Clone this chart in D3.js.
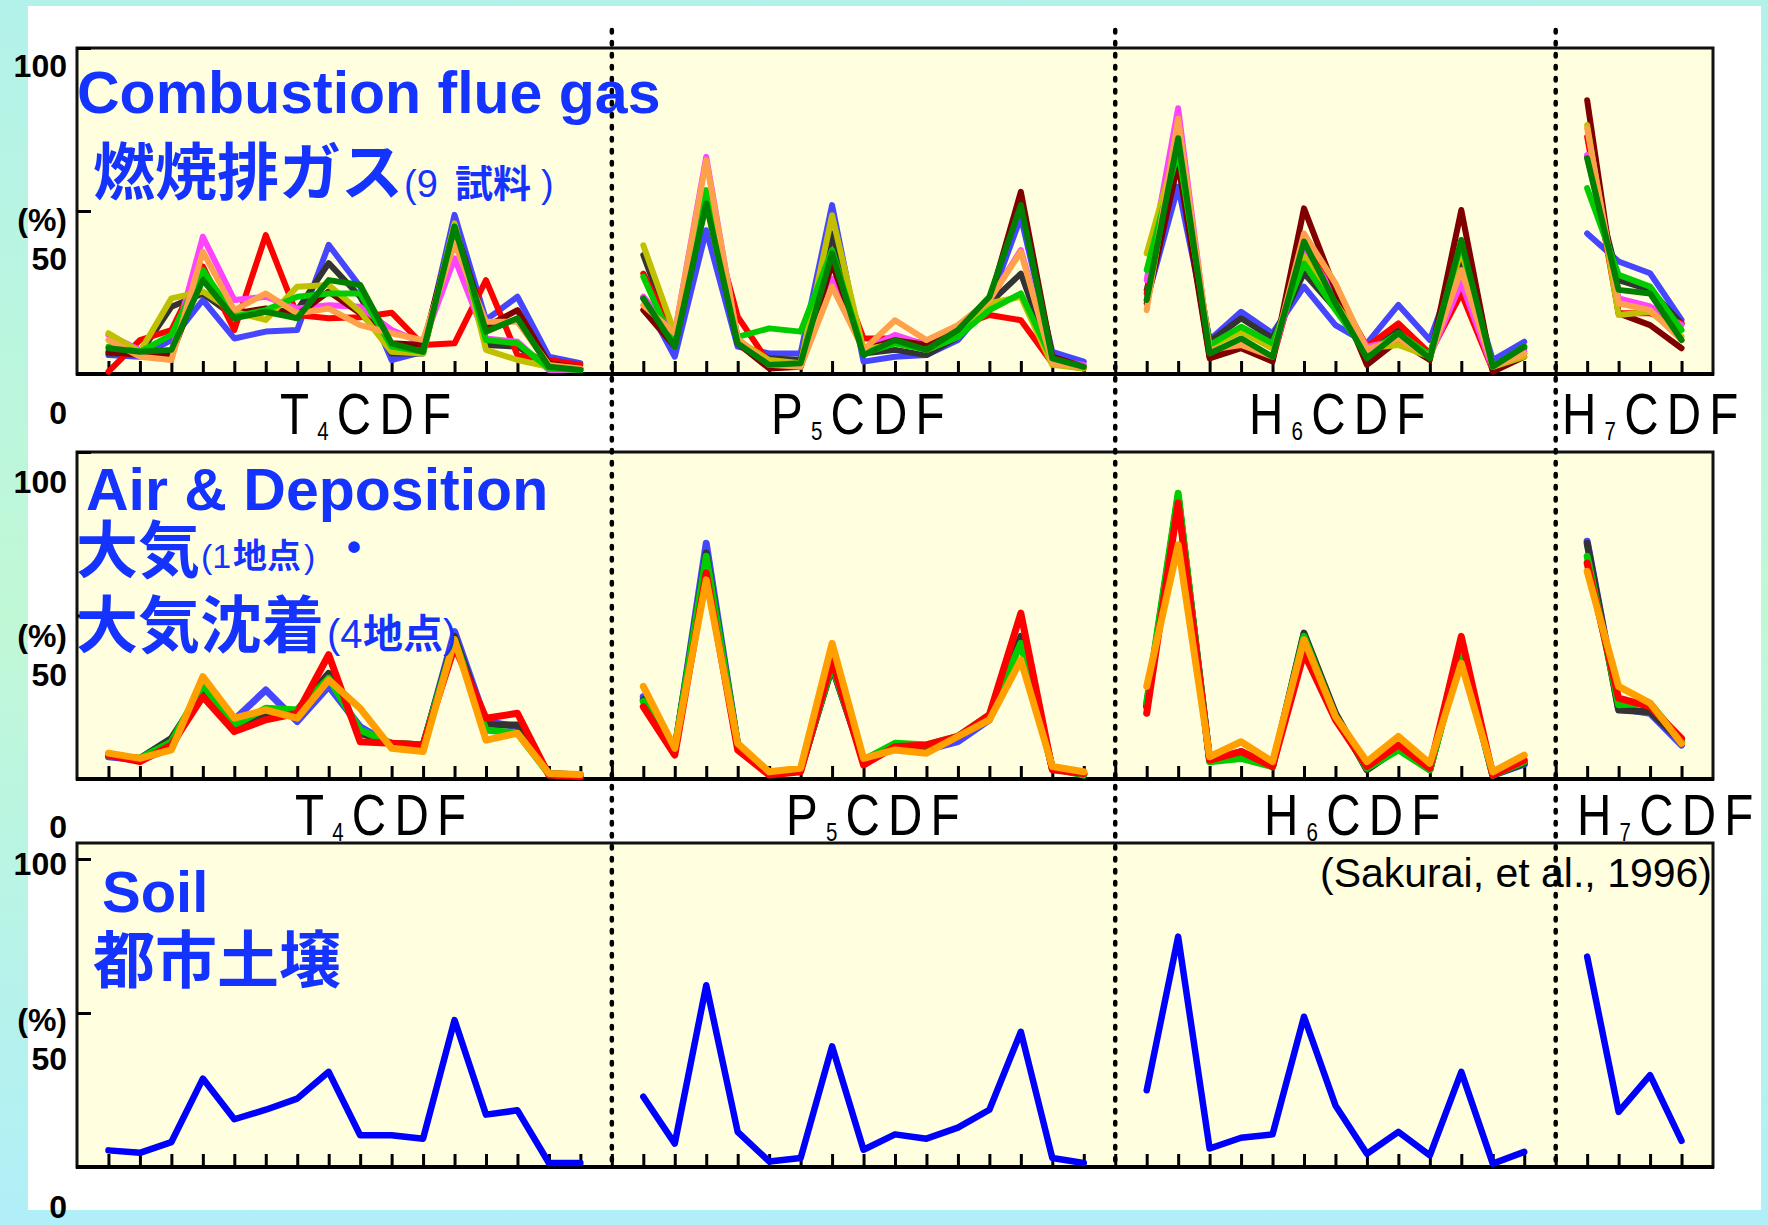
<!DOCTYPE html>
<html>
<head>
<meta charset="utf-8">
<script src="https://cdn.jsdelivr.net/npm/d3@7"></script>
<style>
  html, body { margin: 0; padding: 0; background: #ffffff; }
  svg { display: block; }
</style>
</head>
<body>
<svg id="chart" width="1768" height="1225"></svg>
<script>
// ---- Congener groups on the x axis (peaks per homologue group) ----
const congenerGroups = ["T4CDF", "P5CDF", "H6CDF", "H7CDF"];
const peaksPerGroup = [16, 15, 13, 4];
const yTickValues = [0, 50, 100];
const yAxisLabels = ["100", "(%)", "50", "0"];

// ---- Combustion flue gas, 9 samples (T4 | P5 | H6 | H7), % of homologue ----
const flueBlue = [5.8, 5.3, 10.4, 22.7, 10.9, 13.0, 13.5, 39.6, 26.8, 4.3, 6.8, 48.8, 16.6, 23.7, 5.3, 3.3,
  23.2, 5.3, 44.1, 8.4, 6.3, 6.3, 51.8, 3.8, 5.3, 5.8, 10.4, 21.7, 48.2, 6.8, 3.8,
  22.7, 57.5, 10.4, 19.1, 12.5, 26.8, 15.0, 9.4, 21.2, 10.4, 37.0, 4.3, 9.9,
  43.1, 34.5, 30.9, 16.6];
const flueGray = [6.3, 6.3, 20.6, 24.7, 17.6, 19.1, 19.6, 34.0, 23.7, 6.3, 6.3, 45.2, 8.9, 8.4, 2.8, 1.7,
  36.5, 10.4, 53.3, 9.4, 4.8, 4.3, 43.1, 6.3, 7.4, 5.8, 11.4, 21.7, 30.8, 4.3, 2.2,
  25.8, 65.6, 9.9, 17.1, 11.0, 30.9, 20.0, 7.4, 13.5, 6.3, 33.9, 2.2, 7.9,
  66.7, 28.8, 25.8, 15.5];
const flueRed = [0.7, 10.4, 13.5, 33.0, 13.5, 42.6, 18.1, 17.1, 17.4, 18.8, 8.9, 9.4, 28.8, 5.8, 4.3, 2.8,
  30.8, 11.4, 53.3, 17.6, 3.3, 2.2, 37.0, 10.9, 10.9, 9.4, 14.5, 18.1, 16.5, 3.3, 1.7,
  24.7, 66.7, 5.3, 8.4, 4.3, 39.1, 25.8, 8.4, 15.5, 6.3, 24.7, 1.2, 6.3,
  72.8, 18.6, 18.6, 15.5];
const flueMagenta = [12.0, 7.4, 6.3, 42.1, 22.7, 23.7, 20.1, 21.1, 20.6, 13.5, 9.4, 35.5, 10.9, 9.9, 1.2, 1.2,
  23.7, 12.5, 66.6, 10.4, 3.3, 2.2, 29.3, 7.4, 12.0, 8.9, 13.5, 22.7, 38.0, 4.3, 2.8,
  28.8, 81.5, 6.3, 8.4, 5.0, 39.0, 24.0, 8.4, 10.4, 5.5, 28.0, 1.5, 7.0,
  67.2, 23.2, 20.7, 15.0];
const flueDarkRed = [6.8, 5.8, 5.8, 30.9, 18.6, 20.1, 18.1, 25.3, 18.6, 9.4, 8.9, 45.2, 14.5, 19.6, 3.3, 1.7,
  19.6, 8.4, 53.3, 9.4, 1.7, 2.2, 33.9, 7.4, 10.4, 8.9, 13.0, 22.2, 55.9, 5.3, 2.2,
  21.7, 64.6, 4.8, 7.9, 3.8, 50.8, 25.8, 2.8, 10.4, 4.3, 50.3, 0.7, 5.3,
  84.0, 18.6, 15.0, 7.9];
const flueOlive = [12.5, 6.8, 23.2, 25.3, 19.1, 16.6, 26.8, 27.3, 19.1, 6.8, 6.3, 46.2, 7.4, 4.3, 2.2, 1.2,
  39.5, 12.5, 52.0, 10.4, 4.3, 3.3, 48.7, 7.4, 9.4, 7.4, 11.4, 21.7, 23.7, 2.8, 1.7,
  37.0, 70.8, 8.4, 13.0, 7.9, 36.0, 21.7, 7.9, 8.9, 5.3, 38.0, 2.2, 5.3,
  76.4, 18.1, 19.1, 11.5];
const flueGreen = [8.4, 6.8, 12.0, 31.9, 17.6, 19.6, 23.7, 24.7, 24.7, 8.4, 6.8, 45.2, 10.4, 9.4, 1.7, 1.2,
  29.8, 8.4, 56.4, 11.4, 14.0, 13.0, 38.0, 6.3, 9.4, 7.4, 11.4, 19.6, 24.7, 4.3, 2.2,
  31.9, 68.7, 8.9, 14.5, 9.4, 33.9, 19.6, 6.3, 12.5, 5.8, 40.1, 2.2, 8.4,
  57.0, 30.4, 26.8, 13.5];
const flueOrange = [10.4, 5.3, 4.3, 37.5, 19.6, 24.7, 18.6, 20.1, 15.0, 12.5, 10.4, 40.1, 16.0, 16.0, 2.8, 1.7,
  21.1, 12.5, 65.6, 10.9, 2.8, 2.2, 26.8, 7.4, 16.5, 10.4, 15.0, 22.7, 37.5, 3.3, 2.2,
  19.6, 78.4, 7.4, 8.9, 5.3, 43.1, 27.8, 7.4, 10.9, 5.3, 31.9, 2.2, 6.3,
  75.4, 21.7, 19.6, 10.4];
const flueDarkGreen = [7.9, 6.8, 7.4, 28.8, 17.1, 19.1, 17.1, 28.8, 27.3, 9.4, 6.8, 45.2, 13.0, 17.1, 2.2, 1.2,
  23.2, 8.4, 52.3, 9.4, 2.8, 3.3, 37.0, 5.8, 10.4, 7.4, 13.5, 23.7, 51.8, 4.8, 2.2,
  22.7, 72.3, 6.3, 10.9, 5.3, 40.6, 21.7, 4.8, 12.5, 4.8, 41.1, 2.2, 8.4,
  66.2, 25.8, 24.7, 10.4];

// ---- Air (1 site) and deposition (4 sites) ----
const airBlue = [6.8, 5.8, 9.4, 28.3, 18.1, 27.2, 17.6, 28.3, 16.0, 10.4, 9.9, 45.1, 17.6, 16.0, 1.5, 1.2,
  25.2, 8.4, 72.1, 10.4, 1.7, 2.8, 34.4, 5.8, 10.4, 8.9, 11.4, 18.1, 42.6, 3.3, 1.5,
  22.6, 86.0, 5.8, 8.4, 3.8, 44.0, 19.6, 3.0, 9.4, 3.0, 39.0, 1.2, 4.5,
  72.7, 21.6, 20.1, 10.4];
const airGray = [7.3, 6.3, 12.4, 27.2, 15.5, 19.6, 21.1, 32.3, 14.0, 10.9, 10.4, 43.6, 16.5, 16.5, 1.7, 1.2,
  24.2, 8.9, 69.1, 10.4, 1.7, 2.8, 34.4, 5.8, 9.9, 9.4, 13.0, 19.1, 43.6, 3.3, 1.5,
  22.1, 86.4, 5.8, 7.9, 3.8, 44.6, 20.1, 2.8, 9.4, 2.8, 39.5, 1.2, 4.8,
  72.1, 21.1, 20.6, 11.4];
const airGreen = [7.3, 6.3, 11.4, 28.8, 16.5, 21.6, 21.1, 30.8, 15.0, 10.9, 10.4, 42.6, 15.0, 14.0, 1.5, 1.2,
  23.7, 8.9, 68.1, 10.4, 1.7, 2.8, 34.9, 5.8, 10.9, 10.4, 13.0, 19.6, 41.5, 3.3, 1.2,
  23.2, 87.4, 5.3, 6.3, 3.8, 43.6, 19.1, 3.3, 8.9, 2.8, 38.5, 1.2, 5.3,
  68.1, 22.7, 23.2, 11.4];
const airRed = [7.3, 5.3, 10.4, 25.2, 14.5, 18.1, 20.1, 38.0, 11.4, 10.9, 10.4, 40.5, 18.6, 20.1, 1.2, 0.7,
  22.1, 7.3, 63.0, 8.9, 1.2, 2.2, 36.4, 4.3, 9.9, 10.4, 13.0, 19.6, 50.7, 2.8, 1.7,
  20.1, 84.4, 5.8, 8.4, 3.8, 38.5, 18.1, 3.8, 10.4, 3.3, 43.6, 1.2, 5.8,
  66.0, 24.7, 22.1, 12.4];
const airOrange = [7.9, 6.3, 8.9, 31.3, 18.6, 21.1, 18.6, 30.3, 21.6, 9.4, 8.4, 42.6, 11.9, 14.0, 1.7, 1.4,
  28.3, 9.4, 60.9, 10.9, 2.2, 3.3, 41.5, 6.3, 8.9, 7.9, 13.0, 18.1, 36.4, 3.8, 2.2,
  28.3, 71.6, 6.8, 11.4, 5.3, 42.6, 19.1, 5.3, 13.0, 4.8, 35.4, 2.2, 7.3,
  63.5, 28.3, 23.2, 10.9];

// ---- Urban soil ----
const soilBlue = [5.4, 4.6, 8.1, 28.7, 15.5, 18.6, 22.2, 30.9, 10.3, 10.3, 9.2, 47.7, 17.0, 18.4, 1.3, 1.3,
  22.8, 7.6, 59.0, 11.4, 1.8, 2.9, 39.2, 5.6, 10.6, 9.2, 12.8, 18.6, 43.9, 2.9, 1.3,
  24.9, 74.8, 6.0, 9.5, 10.6, 48.8, 20.0, 4.3, 11.4, 3.8, 30.9, 1.1, 4.9,
  68.3, 17.9, 29.8, 8.5];

// ---- Series styling per panel (drawing order: last on top) ----
const panelSeries = [
  [
    { values: flueBlue, color: "#4646ff" },
    { values: flueGray, color: "#333333" },
    { values: flueRed, color: "#ff0000" },
    { values: flueMagenta, color: "#ff44ff" },
    { values: flueDarkRed, color: "#800000" },
    { values: flueOlive, color: "#c0c000" },
    { values: flueGreen, color: "#00cc00" },
    { values: flueOrange, color: "#ffa04a" },
    { values: flueDarkGreen, color: "#008000" }
  ],
  [
    { values: airBlue, color: "#4646ff" },
    { values: airGray, color: "#333333" },
    { values: airGreen, color: "#00cc00" },
    { values: airRed, color: "#ff0000" },
    { values: airOrange, color: "#ffa000" }
  ],
  [
    { values: soilBlue, color: "#0000ff" }
  ]
];

// ---- Page layout ----
const W = 1768, H = 1225;
const plotLeft = 77, plotRight = 1713;
const panelLayout = [
  { top: 48, y0: 374, y100: 48, lineWidth: 6, labelY: [77, 231, 270, 424], groupY: 434, groupX: [280, 771, 1249, 1562] },
  { top: 452, y0: 779, y100: 452, lineWidth: 7, labelY: [493, 647, 686, 838], groupY: 835, groupX: [295, 786, 1264, 1577] },
  { top: 843, y0: 1167, y100: 859, lineWidth: 6.5, labelY: [875, 1031, 1070, 1218] }
];

const BLUE = "#1533ff";
const LATIN = "'Liberation Sans', Arial, Helvetica, sans-serif";
const CJK = "'Noto Sans CJK JP', 'Noto Sans CJK SC', sans-serif";

// peak positions: each group occupies consecutive slots, a blank slot separates groups
const groupStarts = [];
const dividerSlots = [];
let slotEnd = 1;
peaksPerGroup.forEach((n, i) => {
  groupStarts.push(slotEnd);
  if (i < peaksPerGroup.length - 1) dividerSlots.push(slotEnd + n);
  slotEnd += n + 1;
});
const totalSlots = slotEnd - 1; // right frame sits one slot after the last peak

const x = d3.scaleLinear().domain([0, totalSlots]).range([plotLeft, plotRight]);

const svg = d3.select("#chart");

// framed background
const defs = svg.append("defs");
const grad = defs.append("linearGradient").attr("id", "pageBg")
  .attr("x1", 0).attr("y1", 0).attr("x2", 0).attr("y2", 1);
grad.append("stop").attr("offset", "0%").attr("stop-color", "#b3f2ea");
grad.append("stop").attr("offset", "50%").attr("stop-color", "#c0f8d6");
grad.append("stop").attr("offset", "100%").attr("stop-color", "#b0eff8");
svg.append("rect").attr("width", W).attr("height", H).attr("fill", "url(#pageBg)");
svg.append("rect").attr("x", 28).attr("y", 6).attr("width", 1733).attr("height", 1204).attr("fill", "#ffffff");

function splitGroups(values) {
  const out = [];
  let offset = 0;
  peaksPerGroup.forEach((n, gi) => {
    out.push(values.slice(offset, offset + n).map((v, j) => ({ k: groupStarts[gi] + j, v })));
    offset += n;
  });
  return out;
}

panelLayout.forEach((p, pi) => {
  const y = d3.scaleLinear().domain([0, 100]).range([p.y0, p.y100]);
  const g = svg.append("g");

  g.append("rect")
    .attr("x", plotLeft).attr("y", p.top)
    .attr("width", plotRight - plotLeft).attr("height", p.y0 - p.top)
    .attr("fill", "#ffffe0").attr("stroke", "#111").attr("stroke-width", 3);

  // x ticks at every slot, pointing up into the plot
  const xAxis = g.append("g").attr("transform", `translate(0,${p.y0})`)
    .call(d3.axisBottom(x).tickValues(d3.range(1, totalSlots)).tickSize(-13).tickFormat(""));
  xAxis.select(".domain").remove();
  xAxis.selectAll(".tick line").attr("stroke", "#000").attr("stroke-width", 3);

  // y ticks pointing inward
  const yAxis = g.append("g").attr("transform", `translate(${plotLeft},0)`)
    .call(d3.axisLeft(y).tickValues(yTickValues).tickSize(-14).tickFormat(""));
  yAxis.select(".domain").remove();
  yAxis.selectAll(".tick line").attr("stroke", "#000").attr("stroke-width", 3);

  // base line
  g.append("line").attr("x1", plotLeft - 1).attr("x2", plotRight + 1)
    .attr("y1", p.y0).attr("y2", p.y0).attr("stroke", "#000").attr("stroke-width", 4);

  // y labels
  yAxisLabels.forEach((t, i) => {
    g.append("text").attr("x", 67).attr("y", p.labelY[i])
      .attr("text-anchor", "end")
      .style("font-family", LATIN).style("font-weight", "bold").style("font-size", "32px")
      .attr("fill", "#000").text(t);
  });

  // series lines
  const line = d3.line().x(d => x(d.k)).y(d => y(d.v));
  panelSeries[pi].forEach(s => {
    splitGroups(s.values).forEach(seg => {
      g.append("path").datum(seg).attr("d", line)
        .attr("fill", "none").attr("stroke", s.color)
        .attr("stroke-width", p.lineWidth)
        .attr("stroke-linejoin", "round").attr("stroke-linecap", "round");
    });
  });

  // group names under the panel
  if (p.groupX) {
    congenerGroups.forEach((name, gi) => {
      const t = svg.append("text")
        .attr("transform", `translate(${p.groupX[gi]},${p.groupY}) scale(0.82,1)`)
        .style("font-family", LATIN).style("font-size", "58px").style("letter-spacing", "10px")
        .attr("fill", "#000");
      t.append("tspan").text(name[0]);
      t.append("tspan").attr("dy", 6).style("font-size", "25px").text(name[1]);
      t.append("tspan").attr("dy", -6).text(name.slice(2));
    });
  }
});

// dotted dividers between homologue groups
dividerSlots.forEach(k => {
  svg.append("line")
    .attr("x1", x(k)).attr("x2", x(k)).attr("y1", 30).attr("y2", 1166)
    .attr("stroke", "#000").attr("stroke-width", 4.5)
    .attr("stroke-dasharray", "2.5 9.5").attr("stroke-linecap", "round");
});

// ---- Panel titles ----
function latinTitle(txt, xx, yy, size) {
  svg.append("text").attr("x", xx).attr("y", yy)
    .style("font-family", LATIN).style("font-weight", "bold").style("font-size", size + "px")
    .attr("fill", BLUE).text(txt);
}
function cjkTitle(txt, xx, yy, size) {
  svg.append("text").attr("x", xx).attr("y", yy)
    .style("font-family", CJK).style("font-weight", "bold").style("font-size", size + "px")
    .attr("fill", BLUE).text(txt);
}
function note(parts, yy, size) {
  const t = svg.append("text").attr("y", yy).style("font-size", size + "px").attr("fill", BLUE);
  parts.forEach(([s, xx, bold, fam]) => {
    t.append("tspan").attr("x", xx)
      .style("font-family", fam === "cjk" ? CJK : LATIN)
      .style("font-weight", bold ? "bold" : "normal").text(s);
  });
}

latinTitle("Combustion flue gas", 77, 113, 59);
cjkTitle("燃焼排ガス", 93, 195, 62);
note([["(9", 404, false], ["試料", 455, true, "cjk"], [")", 541, false]], 197, 38);

latinTitle("Air & Deposition", 86, 510, 59);
cjkTitle("大気", 76, 573, 62);
note([["(1", 201, false], ["地点", 233, true, "cjk"], [")", 304, false]], 568, 34);
svg.append("text").attr("x", 354).attr("y", 561).attr("text-anchor", "middle")
  .style("font-family", LATIN).style("font-weight", "bold").style("font-size", "40px")
  .attr("fill", BLUE).text("•");
cjkTitle("大気沈着", 76, 648, 62);
note([["(4", 327, false], ["地点", 363, true, "cjk"], [")", 443, false]], 648, 40);

latinTitle("Soil", 102, 912, 58);
cjkTitle("都市土壌", 93, 983, 62);

svg.append("text").attr("x", 1712).attr("y", 887).attr("text-anchor", "end")
  .style("font-family", LATIN).style("font-size", "41px").attr("fill", "#000")
  .text("(Sakurai, et al., 1996)");
</script>
</body>
</html>
